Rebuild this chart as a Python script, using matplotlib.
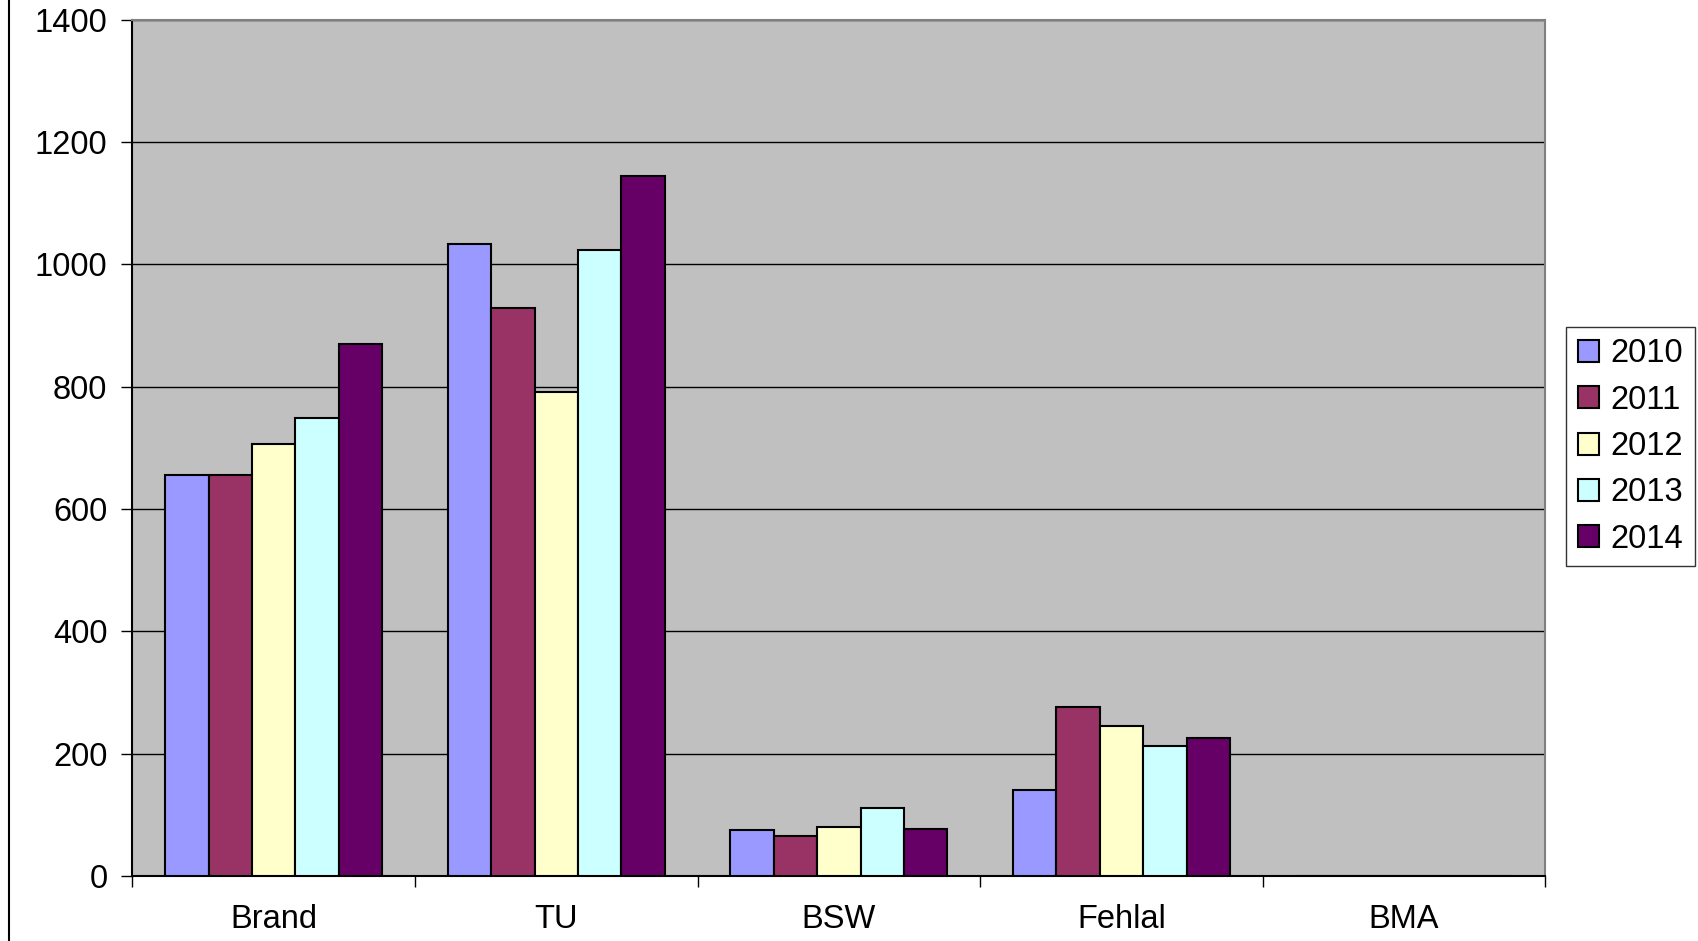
import numpy as np
import matplotlib
matplotlib.use("Agg")
import matplotlib.pyplot as plt
from matplotlib.lines import Line2D

plt.rcParams['font.family'] = ['Liberation Sans', 'DejaVu Sans']

categories = ["Brand", "TU", "BSW", "Fehlal", "BMA"]
years = ["2010", "2011", "2012", "2013", "2014"]
values = {
    "2010": [656, 1034, 76, 141, 0],
    "2011": [656, 929, 65, 277, 0],
    "2012": [706, 792, 81, 246, 0],
    "2013": [749, 1023, 111, 213, 0],
    "2014": [870, 1144, 77, 226, 0],
}
colors = ["#9999FF", "#993366", "#FFFFCC", "#CCFFFF", "#660066"]

fig = plt.figure(figsize=(16.98, 9.41), dpi=100)
ax = fig.add_axes([0.078, 0.069, 0.832, 0.910])
ax.set_facecolor("#C0C0C0")

x = np.arange(len(categories))
width = 1 / 6.5
for i, yr in enumerate(years):
    ax.bar(x + (i - 2) * width, values[yr], width, color=colors[i],
           edgecolor="black", linewidth=1.5, label=yr, zorder=3)

ax.set_xlim(-0.5, len(categories) - 0.5)
ax.set_ylim(0, 1400)
ax.set_yticks(range(0, 1401, 200))
ax.yaxis.grid(True, color="black", linewidth=1)
ax.set_axisbelow(True)

ax.set_xticks(np.arange(-0.5, len(categories), 1))
ax.set_xticklabels([])
ax.set_xticks(x, minor=True)
ax.set_xticklabels(categories, minor=True)
ax.tick_params(axis="x", which="major", length=8, width=1, direction="out")
ax.tick_params(axis="x", which="minor", length=0, pad=20, labelsize=23.5)
ax.tick_params(axis="y", length=8, width=1, direction="out", pad=10, labelsize=23.5)

ax.spines["left"].set_color("black")
ax.spines["bottom"].set_color("black")
ax.spines["top"].set_color("#808080")
ax.spines["right"].set_color("#808080")
for s in ax.spines.values():
    s.set_linewidth(1.5)

leg = ax.legend(loc="upper left", bbox_to_anchor=(0.9225, 0.6525),
                bbox_transform=fig.transFigure, fontsize=23.5,
                frameon=True, fancybox=False, edgecolor="black",
                handlelength=0.65, handleheight=0.65, handletextpad=0.35,
                labelspacing=0.47, borderpad=0.35, borderaxespad=0)
leg.get_frame().set_linewidth(1)

fig.add_artist(Line2D([0.0055, 0.0055], [0.0, 1.0], color="black", linewidth=1.5,
                      transform=fig.transFigure))

fig.savefig("out.png", dpi=100, facecolor="white")
